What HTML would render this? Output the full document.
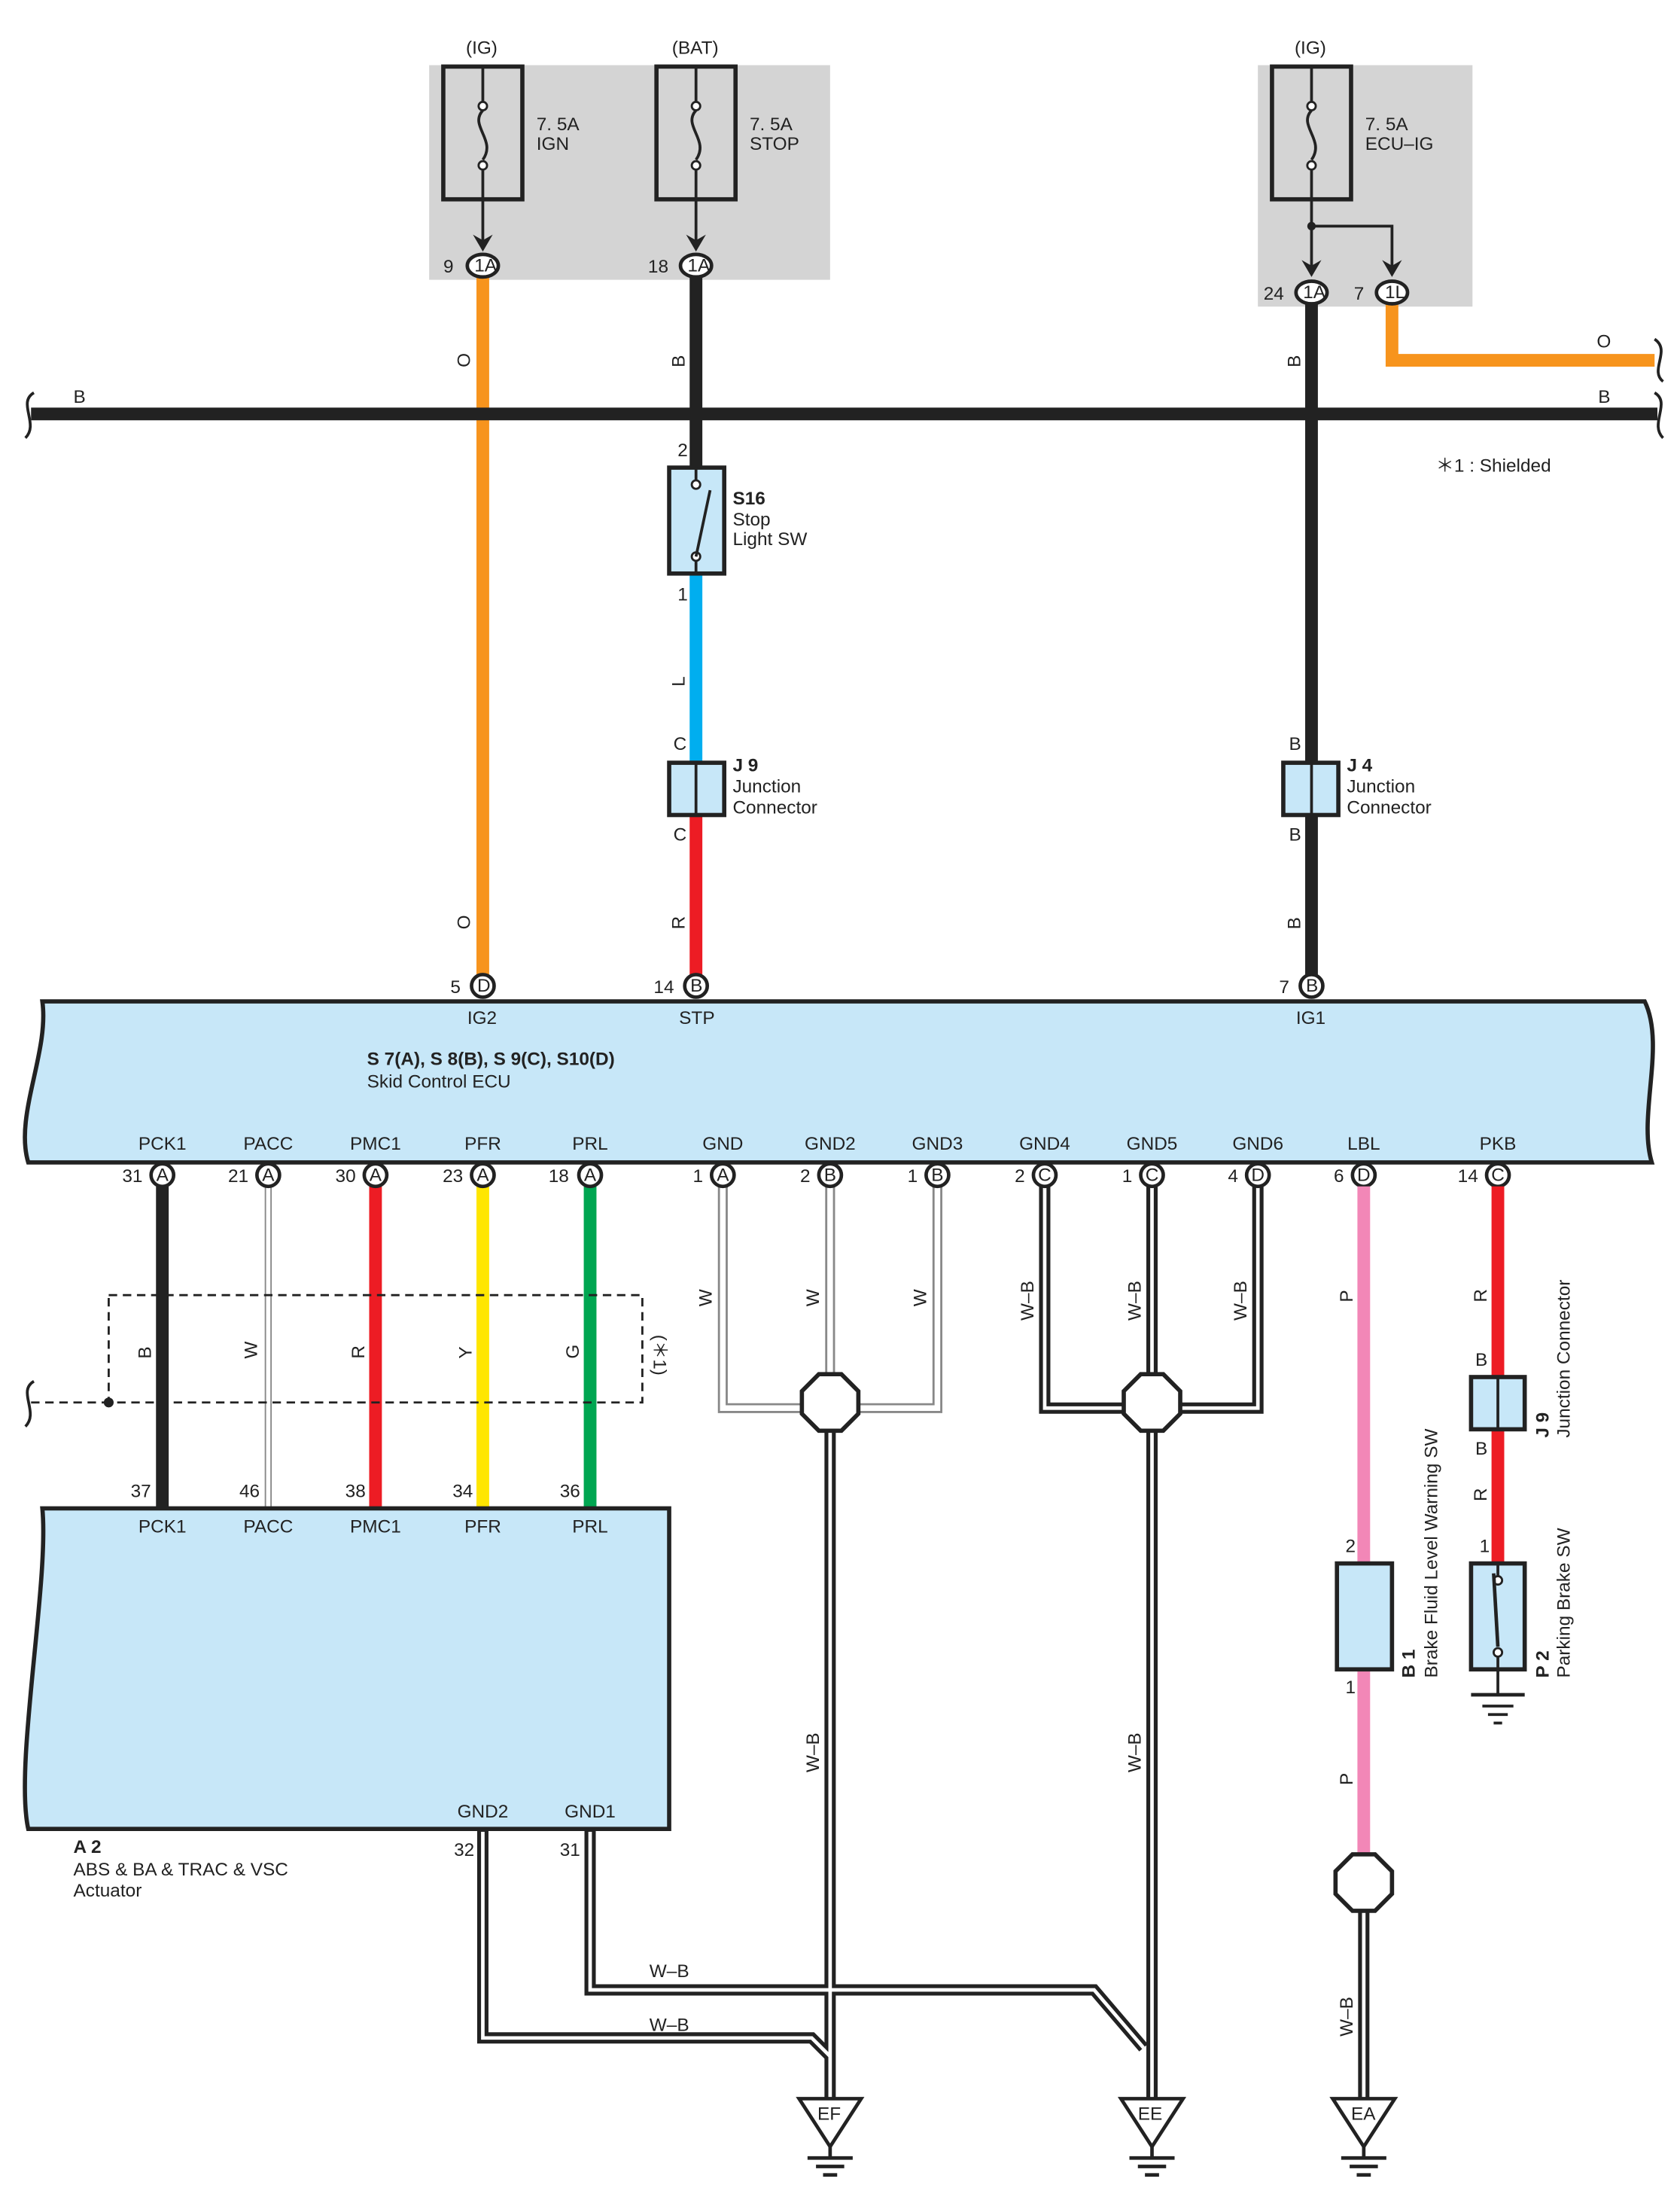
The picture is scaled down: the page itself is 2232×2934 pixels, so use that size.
<!DOCTYPE html>
<html><head><meta charset="utf-8"><style>
html,body{margin:0;padding:0;background:#fff}
svg{display:block}
text{font-family:"Liberation Sans",Arial,sans-serif;font-size:13px;fill:#222}
.b{font-weight:bold}
</style></head><body>
<svg width="2232" height="2934" viewBox="0 0 1190 1564" xmlns="http://www.w3.org/2000/svg">
<defs>
<g id="con"><ellipse cx="0" cy="0" rx="11" ry="8" fill="#fff" stroke="#222" stroke-width="2.5"/></g>
<g id="pin"><circle cx="0" cy="0" r="8" fill="#fff" stroke="#222" stroke-width="2.5"/></g>
<g id="oct"><polygon points="-8,-20 8,-20 20,-8 20,8 8,20 -8,20 -20,8 -20,-8" fill="#fff" stroke="#222" stroke-width="3"/></g>
<g id="gnd"><polygon points="-22,0 22,0 0,34" fill="#fff" stroke="#222" stroke-width="2.5"/><line x1="0" y1="34" x2="0" y2="42" stroke="#222" stroke-width="2.5"/><line x1="-16" y1="42" x2="16" y2="42" stroke="#222" stroke-width="2.5"/><line x1="-10" y1="48" x2="10" y2="48" stroke="#222" stroke-width="2.5"/><line x1="-5" y1="54" x2="5" y2="54" stroke="#222" stroke-width="2.5"/></g>
<g id="fuse"><rect x="0" y="0" width="56" height="94" fill="none" stroke="#222" stroke-width="3"/><line x1="28" y1="0" x2="28" y2="26" stroke="#222" stroke-width="2"/><circle cx="28" cy="28" r="3" fill="#fff" stroke="#222" stroke-width="1.5"/><path d="M28,31 C18,42 38,52 28,66" fill="none" stroke="#222" stroke-width="2"/><circle cx="28" cy="70" r="3" fill="#fff" stroke="#222" stroke-width="1.5"/><line x1="28" y1="73" x2="28" y2="94" stroke="#222" stroke-width="2"/></g>
</defs>

<!-- fuse boxes -->
<rect x="304" y="46" width="284" height="152" fill="#d4d4d4"/>
<rect x="891" y="46" width="152" height="171" fill="#d4d4d4"/>
<text x="330" y="38">(IG)</text><text x="476" y="38">(BAT)</text><text x="917" y="38">(IG)</text>
<use href="#fuse" x="314" y="47"/><use href="#fuse" x="465" y="47"/><use href="#fuse" x="901" y="47"/>
<text x="380" y="92">7. 5A</text><text x="380" y="106">IGN</text>
<text x="531" y="92">7. 5A</text><text x="531" y="106">STOP</text>
<text x="967" y="92">7. 5A</text><text x="967" y="106">ECU–IG</text>
<g stroke="#222" stroke-width="2" fill="none">
<line x1="342" y1="141" x2="342" y2="175"/><line x1="493" y1="141" x2="493" y2="175"/>
<line x1="929" y1="141" x2="929" y2="194"/><polyline points="929,160 986,160 986,194"/>
</g>
<g fill="#222"><path d="M335,166 L342,178 L349,166 L342,170Z"/><path d="M486,166 L493,178 L500,166 L493,170Z"/><path d="M922,184 L929,196 L936,184 L929,188Z"/><path d="M979,184 L986,196 L993,184 L986,188Z"/></g>
<circle cx="929" cy="160" r="3" fill="#222"/>

<!-- wires top -->
<polyline points="986,215 986,255 1172,255" fill="none" stroke="#f7941d" stroke-width="9"/>
<line x1="342" y1="196" x2="342" y2="692" stroke="#f7941d" stroke-width="9"/>
<line x1="493" y1="196" x2="493" y2="332" stroke="#222" stroke-width="9"/>
<line x1="493" y1="406" x2="493" y2="540" stroke="#00aeef" stroke-width="9"/>
<line x1="493" y1="577" x2="493" y2="692" stroke="#ed1c24" stroke-width="9"/>
<line x1="929" y1="214" x2="929" y2="692" stroke="#222" stroke-width="9"/>
<line x1="22" y1="293" x2="1174" y2="293" stroke="#222" stroke-width="9"/>
<path d="M24,278 C12,285 28,300 18,310" fill="none" stroke="#222" stroke-width="2"/>
<path d="M1172,240 C1184,248 1168,262 1178,270" fill="none" stroke="#222" stroke-width="2"/>
<path d="M1172,278 C1184,285 1168,300 1178,310" fill="none" stroke="#222" stroke-width="2"/>
<use href="#con" x="342" y="188"/><use href="#con" x="493" y="188"/><use href="#con" x="929" y="207"/><use href="#con" x="986" y="207"/>
<g style="font-size:11px"><text x="336" y="192">1A</text><text x="487" y="192">1A</text><text x="923" y="211">1A</text><text x="981" y="211">1L</text></g>
<text x="314" y="193">9</text><text x="459" y="193">18</text><text x="895" y="212">24</text><text x="959" y="212">7</text>
<text x="52" y="285">B</text><text x="1132" y="285">B</text><text x="1131" y="246">O</text>
<text x="1017" y="334">＊1 : Shielded</text>
<g>
<text transform="translate(333,260) rotate(-90)">O</text>
<text transform="translate(485,260) rotate(-90)">B</text>
<text transform="translate(921,260) rotate(-90)">B</text>
<text transform="translate(485,486) rotate(-90)">L</text>
<text transform="translate(333,658) rotate(-90)">O</text>
<text transform="translate(485,658) rotate(-90)">R</text>
<text transform="translate(921,658) rotate(-90)">B</text>
</g>
<!-- S16 -->
<rect x="474" y="331" width="39" height="75" fill="#c7e7f8" stroke="#222" stroke-width="3"/>
<circle cx="493" cy="343" r="3" fill="#fff" stroke="#222" stroke-width="1.5"/><circle cx="493" cy="394" r="3" fill="#fff" stroke="#222" stroke-width="1.5"/>
<line x1="493" y1="394" x2="503" y2="347" stroke="#222" stroke-width="2"/>
<line x1="493" y1="331" x2="493" y2="340" stroke="#222" stroke-width="2"/><line x1="493" y1="397" x2="493" y2="406" stroke="#222" stroke-width="2"/>
<text x="480" y="323">2</text><text x="480" y="425">1</text>
<text x="519" y="357" class="b">S16</text><text x="519" y="372">Stop</text><text x="519" y="386">Light SW</text>
<!-- J9 J4 -->
<rect x="474" y="540" width="39" height="37" fill="#c7e7f8" stroke="#222" stroke-width="3"/><line x1="493" y1="540" x2="493" y2="577" stroke="#222" stroke-width="2"/>
<rect x="909" y="540" width="39" height="37" fill="#c7e7f8" stroke="#222" stroke-width="3"/><line x1="929" y1="540" x2="929" y2="577" stroke="#222" stroke-width="2"/>
<text x="477" y="531">C</text><text x="477" y="595">C</text><text x="913" y="531">B</text><text x="913" y="595">B</text>
<text x="519" y="546" class="b">J 9</text><text x="519" y="561">Junction</text><text x="519" y="576">Connector</text>
<text x="954" y="546" class="b">J 4</text><text x="954" y="561">Junction</text><text x="954" y="576">Connector</text>

<!-- ECU -->
<path d="M30,709 L1165,709 C1180,740 1160,790 1170,823 L20,823 C10,790 35,745 30,709Z" fill="#c7e7f8" stroke="#222" stroke-width="3"/>
<use href="#pin" x="342" y="698"/><use href="#pin" x="493" y="698"/><use href="#pin" x="929" y="698"/>
<g style="font-size:11px"><text x="338" y="702">D</text><text x="489" y="702">B</text><text x="925" y="702">B</text></g>
<text x="319" y="703">5</text><text x="463" y="703">14</text><text x="906" y="703">7</text>
<text x="331" y="725">IG2</text><text x="481" y="725">STP</text><text x="918" y="725">IG1</text>
<text x="260" y="754" class="b">S 7(A), S 8(B), S 9(C), S10(D)</text><text x="260" y="770">Skid Control ECU</text>
<g text-anchor="middle">
<text x="115" y="814">PCK1</text><text x="190" y="814">PACC</text><text x="266" y="814">PMC1</text><text x="342" y="814">PFR</text><text x="418" y="814">PRL</text><text x="512" y="814">GND</text><text x="588" y="814">GND2</text><text x="664" y="814">GND3</text><text x="740" y="814">GND4</text><text x="816" y="814">GND5</text><text x="891" y="814">GND6</text><text x="966" y="814">LBL</text><text x="1061" y="814">PKB</text>
</g>

<!-- lower wires -->
<line x1="115" y1="840" x2="115" y2="1068" stroke="#222" stroke-width="9"/>
<line x1="190" y1="840" x2="190" y2="1068" stroke="#888" stroke-width="5"/><line x1="190" y1="840" x2="190" y2="1068" stroke="#fff" stroke-width="3"/>
<line x1="266" y1="840" x2="266" y2="1068" stroke="#ed1c24" stroke-width="9"/>
<line x1="342" y1="840" x2="342" y2="1068" stroke="#ffe600" stroke-width="9"/>
<line x1="418" y1="840" x2="418" y2="1068" stroke="#00a651" stroke-width="9"/>
<!-- W ground group -->
<g fill="none" stroke-linejoin="miter">
<polyline points="512,840 512,997 664,997 664,840" stroke="#888" stroke-width="7"/>
<line x1="588" y1="840" x2="588" y2="997" stroke="#888" stroke-width="7"/>
<polyline points="512,840 512,997 664,997 664,840" stroke="#fff" stroke-width="4"/>
<line x1="588" y1="840" x2="588" y2="994" stroke="#fff" stroke-width="4"/>
<polyline points="740,840 740,997 891,997 891,840" stroke="#222" stroke-width="8"/>
<line x1="816" y1="840" x2="816" y2="997" stroke="#222" stroke-width="8"/>
<polyline points="740,840 740,997 891,997 891,840" stroke="#fff" stroke-width="2.5"/>
<line x1="816" y1="840" x2="816" y2="994" stroke="#fff" stroke-width="2.5"/>
<!-- trunks -->
<g stroke="#222" stroke-width="8"><line x1="588" y1="1010" x2="588" y2="1488"/><line x1="816" y1="1010" x2="816" y2="1488"/><line x1="966" y1="1350" x2="966" y2="1488"/>
<polyline points="342,1295 342,1443 575,1443 588,1456"/><polyline points="418,1295 418,1409 775,1409 810,1450"/></g>
<g stroke="#fff" stroke-width="2.5"><line x1="588" y1="1010" x2="588" y2="1488"/><line x1="816" y1="1010" x2="816" y2="1488"/><line x1="966" y1="1350" x2="966" y2="1488"/>
<polyline points="342,1297 342,1443 575,1443 588,1456"/><polyline points="418,1297 418,1409 775,1409 810,1450"/></g>
</g>
<use href="#oct" x="588" y="993"/><use href="#oct" x="816" y="993"/>
<use href="#gnd" x="588" y="1486"/><use href="#gnd" x="816" y="1486"/><use href="#gnd" x="966" y="1486"/>
<text x="579" y="1501">EF</text><text x="806" y="1501">EE</text><text x="957" y="1501">EA</text>

<!-- pins row -->
<g>
<use href="#pin" x="115" y="832"/><use href="#pin" x="190" y="832"/><use href="#pin" x="266" y="832"/><use href="#pin" x="342" y="832"/><use href="#pin" x="418" y="832"/><use href="#pin" x="512" y="832"/><use href="#pin" x="588" y="832"/><use href="#pin" x="664" y="832"/><use href="#pin" x="740" y="832"/><use href="#pin" x="816" y="832"/><use href="#pin" x="891" y="832"/><use href="#pin" x="966" y="832"/><use href="#pin" x="1061" y="832"/>
</g>
<g style="font-size:11px" text-anchor="middle">
<text x="115" y="836">A</text><text x="190" y="836">A</text><text x="266" y="836">A</text><text x="342" y="836">A</text><text x="418" y="836">A</text><text x="512" y="836">A</text><text x="588" y="836">B</text><text x="664" y="836">B</text><text x="740" y="836">C</text><text x="816" y="836">C</text><text x="891" y="836">D</text><text x="966" y="836">D</text><text x="1061" y="836">C</text>
</g>
<g text-anchor="end">
<text x="101" y="837">31</text><text x="176" y="837">21</text><text x="252" y="837">30</text><text x="328" y="837">23</text><text x="403" y="837">18</text><text x="498" y="837">1</text><text x="574" y="837">2</text><text x="650" y="837">1</text><text x="726" y="837">2</text><text x="802" y="837">1</text><text x="877" y="837">4</text><text x="952" y="837">6</text><text x="1047" y="837">14</text>
</g>
<g>
<text transform="translate(107,962) rotate(-90)">B</text><text transform="translate(182,962) rotate(-90)">W</text><text transform="translate(258,962) rotate(-90)">R</text><text transform="translate(334,962) rotate(-90)">Y</text><text transform="translate(410,962) rotate(-90)">G</text>
<text transform="translate(504,925) rotate(-90)">W</text><text transform="translate(580,925) rotate(-90)">W</text><text transform="translate(656,925) rotate(-90)">W</text>
<text transform="translate(732,935) rotate(-90)">W–B</text><text transform="translate(808,935) rotate(-90)">W–B</text><text transform="translate(883,935) rotate(-90)">W–B</text>
<text transform="translate(958,922) rotate(-90)">P</text><text transform="translate(1053,922) rotate(-90)">R</text>
<text transform="translate(463,945) rotate(90)">(＊1)</text>
<text transform="translate(580,1255) rotate(-90)">W–B</text><text transform="translate(808,1255) rotate(-90)">W–B</text>
<text transform="translate(958,1264) rotate(-90)">P</text><text transform="translate(958,1442) rotate(-90)">W–B</text>
<text transform="translate(1053,1063) rotate(-90)">R</text>
</g>
<!-- dashed shield -->
<rect x="77" y="917" width="378" height="76" fill="none" stroke="#222" stroke-width="1.5" stroke-dasharray="6,4"/>
<line x1="22" y1="993" x2="77" y2="993" stroke="#222" stroke-width="1.5" stroke-dasharray="6,4"/>
<circle cx="77" cy="993" r="3.5" fill="#222"/>
<path d="M24,978 C12,985 28,1000 18,1010" fill="none" stroke="#222" stroke-width="2"/>

<!-- A2 -->
<path d="M30,1068 L474,1068 L474,1295 L20,1295 C10,1250 35,1120 30,1068Z" fill="#c7e7f8" stroke="#222" stroke-width="3"/>
<g text-anchor="middle"><text x="115" y="1085">PCK1</text><text x="190" y="1085">PACC</text><text x="266" y="1085">PMC1</text><text x="342" y="1085">PFR</text><text x="418" y="1085">PRL</text><text x="342" y="1287">GND2</text><text x="418" y="1287">GND1</text></g>
<g text-anchor="end"><text x="107" y="1060">37</text><text x="184" y="1060">46</text><text x="259" y="1060">38</text><text x="335" y="1060">34</text><text x="411" y="1060">36</text><text x="336" y="1314">32</text><text x="411" y="1314">31</text></g>
<text x="52" y="1312" class="b">A 2</text><text x="52" y="1328">ABS &amp; BA &amp; TRAC &amp; VSC</text><text x="52" y="1343">Actuator</text>
<text x="460" y="1400">W–B</text><text x="460" y="1438">W–B</text>

<!-- right: B1, J9, P2 -->
<line x1="966" y1="840" x2="966" y2="1107" stroke="#f287b7" stroke-width="9"/>
<line x1="966" y1="1182" x2="966" y2="1315" stroke="#f287b7" stroke-width="9"/>
<use href="#oct" x="966" y="1333"/>
<rect x="947" y="1107" width="39" height="75" fill="#c7e7f8" stroke="#222" stroke-width="3"/>
<text x="953" y="1099">2</text><text x="953" y="1199">1</text>
<text transform="translate(1002,1188) rotate(-90)" class="b">B 1</text>
<text transform="translate(1018,1188) rotate(-90)">Brake Fluid Level Warning SW</text>
<line x1="1061" y1="840" x2="1061" y2="975" stroke="#ed1c24" stroke-width="9"/>
<line x1="1061" y1="1012" x2="1061" y2="1107" stroke="#ed1c24" stroke-width="9"/>
<rect x="1042" y="975" width="38" height="37" fill="#c7e7f8" stroke="#222" stroke-width="3"/><line x1="1061" y1="975" x2="1061" y2="1012" stroke="#222" stroke-width="2"/>
<text x="1045" y="967">B</text><text x="1045" y="1030">B</text>
<text transform="translate(1097,1018) rotate(-90)" class="b">J 9</text>
<text transform="translate(1112,1018) rotate(-90)">Junction Connector</text>
<rect x="1042" y="1107" width="38" height="75" fill="#c7e7f8" stroke="#222" stroke-width="3"/>
<text x="1048" y="1099">1</text>
<line x1="1061" y1="1107" x2="1061" y2="1116" stroke="#222" stroke-width="2"/>
<circle cx="1061" cy="1119" r="3" fill="#fff" stroke="#222" stroke-width="1.5"/>
<line x1="1058" y1="1114" x2="1061" y2="1166" stroke="#222" stroke-width="2.5"/>
<circle cx="1061" cy="1170" r="3" fill="#fff" stroke="#222" stroke-width="1.5"/>
<line x1="1061" y1="1173" x2="1061" y2="1200" stroke="#222" stroke-width="2"/>
<line x1="1042" y1="1200" x2="1080" y2="1200" stroke="#222" stroke-width="2.5"/>
<line x1="1050" y1="1208" x2="1072" y2="1208" stroke="#222" stroke-width="2"/>
<line x1="1054" y1="1214" x2="1068" y2="1214" stroke="#222" stroke-width="2"/>
<line x1="1058" y1="1220" x2="1064" y2="1220" stroke="#222" stroke-width="2"/>
<text transform="translate(1097,1188) rotate(-90)" class="b">P 2</text>
<text transform="translate(1112,1188) rotate(-90)">Parking Brake SW</text>
</svg>
</body></html>
